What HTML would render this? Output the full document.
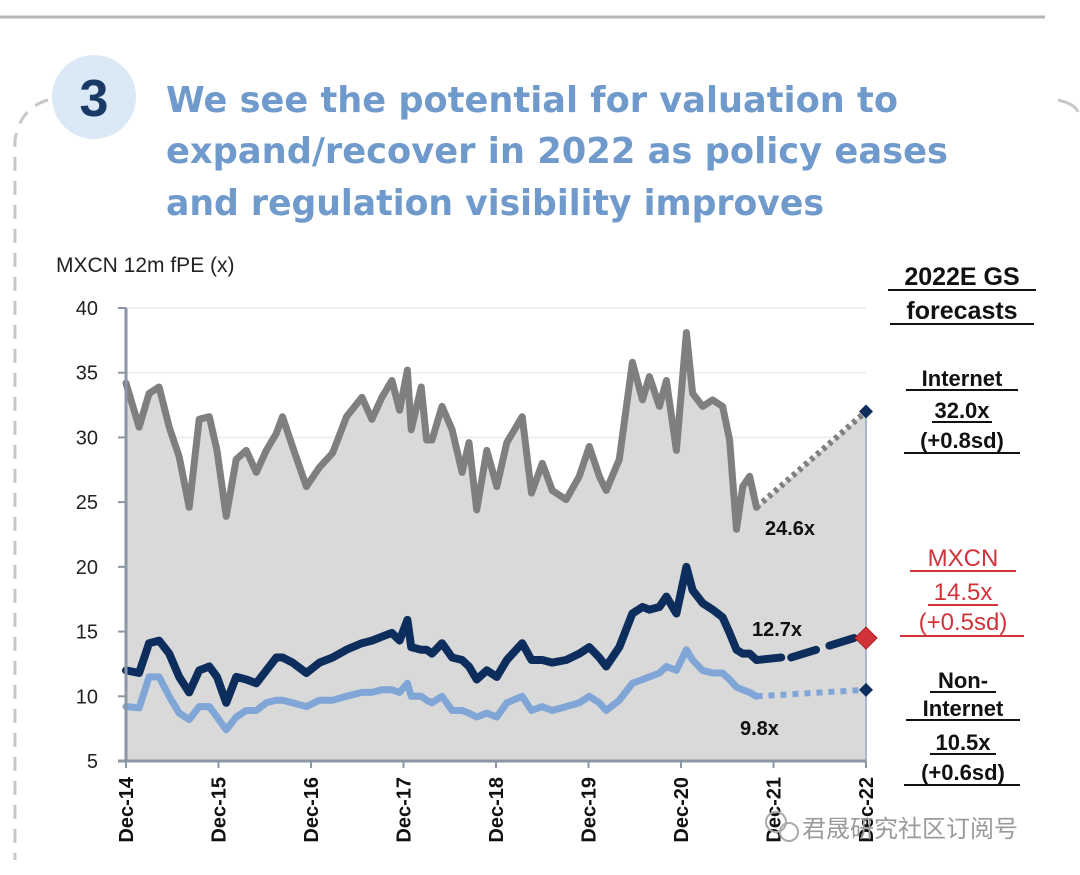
<!DOCTYPE html>
<html><head><meta charset="utf-8">
<style>
html,body{margin:0;padding:0;background:#fff;}
body{width:1080px;height:875px;overflow:hidden;position:relative;font-family:"Liberation Sans","Noto Sans CJK SC",sans-serif;}
</style></head>
<body>
<svg id="chart" width="1080" height="875" viewBox="0 0 1080 875" xmlns="http://www.w3.org/2000/svg" style="position:absolute;left:0;top:0">
  <line x1="0" y1="17" x2="1045" y2="17" stroke="#b5b5b5" stroke-width="3"/>
  <path d="M48 100 Q20 108 15 140 L15 860" fill="none" stroke="#c8c8c8" stroke-width="3" stroke-dasharray="14 10"/>
  <path d="M1058 100 Q1075 104 1078 112" fill="none" stroke="#c8c8c8" stroke-width="3"/>
  <circle cx="94" cy="97" r="42" fill="#dbe8f5"/>
  <text x="94" y="116" text-anchor="middle" font-size="52" font-weight="bold" fill="#1a3a66" font-family="Liberation Sans, sans-serif">3</text>
  <g font-size="36" font-weight="bold" fill="#6f9acb" font-family="DejaVu Sans, Liberation Sans, sans-serif">
    <text x="166" y="112" textLength="732" lengthAdjust="spacingAndGlyphs">We see the potential for valuation to</text>
    <text x="166" y="163" textLength="782" lengthAdjust="spacingAndGlyphs">expand/recover in 2022 as policy eases</text>
    <text x="166" y="215" textLength="658" lengthAdjust="spacingAndGlyphs">and regulation visibility improves</text>
  </g>
  <text x="56" y="272" font-size="21" fill="#222">MXCN 12m fPE (x)</text>
  <g id="plot"></g>
  <g font-size="25" font-weight="bold" fill="#111" text-anchor="middle">
    <text x="962" y="285">2022E GS</text>
    <text x="962" y="319">forecasts</text>
    <line x1="888" y1="290" x2="1036" y2="290" stroke="#111" stroke-width="2"/>
    <line x1="890" y1="324" x2="1034" y2="324" stroke="#111" stroke-width="2"/>
  </g>
  <g font-size="22" font-weight="bold" fill="#111" text-anchor="middle">
    <text x="962" y="386">Internet</text>
    <text x="962" y="418">32.0x</text>
    <text x="962" y="448">(+0.8sd)</text>
    <line x1="906" y1="390" x2="1018" y2="390" stroke="#111" stroke-width="2"/>
    <line x1="932" y1="422" x2="992" y2="422" stroke="#111" stroke-width="2"/>
    <line x1="904" y1="453" x2="1020" y2="453" stroke="#111" stroke-width="2"/>
  </g>
  <g font-size="24" fill="#d0343a" text-anchor="middle">
    <text x="963" y="566">MXCN</text>
    <text x="963" y="600">14.5x</text>
    <text x="963" y="630">(+0.5sd)</text>
    <line x1="910" y1="571" x2="1016" y2="571" stroke="#d0343a" stroke-width="2"/>
    <line x1="928" y1="605" x2="998" y2="605" stroke="#d0343a" stroke-width="2"/>
    <line x1="900" y1="636" x2="1024" y2="636" stroke="#d0343a" stroke-width="2"/>
  </g>
  <g font-size="22" font-weight="bold" fill="#111" text-anchor="middle">
    <text x="963" y="688">Non-</text>
    <text x="963" y="716">Internet</text>
    <text x="963" y="750">10.5x</text>
    <text x="963" y="780">(+0.6sd)</text>
    <line x1="930" y1="692" x2="996" y2="692" stroke="#111" stroke-width="2"/>
    <line x1="906" y1="720" x2="1020" y2="720" stroke="#111" stroke-width="2"/>
    <line x1="930" y1="754" x2="996" y2="754" stroke="#111" stroke-width="2"/>
    <line x1="904" y1="785" x2="1020" y2="785" stroke="#111" stroke-width="2"/>
  </g>
  <g>
    <circle cx="776" cy="822" r="10" fill="none" stroke="#aaa" stroke-width="2"/>
    <circle cx="789" cy="832" r="9" fill="none" stroke="#aaa" stroke-width="2"/>
    <text x="802" y="837" font-size="24" fill="#9a9a9a" font-family="Liberation Sans, Noto Sans CJK SC, sans-serif">君晟研究社区订阅号</text>
  </g>
</svg>
<script>
// month offsets from Dec-14
const months = [0,1.7,3,4.3,5.6,6.9,8.2,9.5,10.8,11.8,13,14.3,15.6,16.9,18.2,19.5,20.3,21.6,23.4,25.1,26.8,28.6,30.6,31.9,33.2,34.5,35.5,36.5,37,38.3,39,39.7,41,42.3,43.6,44.5,45.5,46.8,48.1,49.4,51.4,52.6,54,55.3,57.1,58.8,60.1,61.4,62.3,64,65.7,67,67.9,69.2,70.1,71.4,72.7,73.5,74.8,76.1,77.4,78.3,79.2,80,80.9,81.8];
const internet = [34.2,30.8,33.4,33.9,30.8,28.5,24.6,31.4,31.6,29,23.9,28.3,29,27.3,29,30.3,31.6,29.3,26.2,27.7,28.8,31.6,33.1,31.4,33.1,34.4,32.1,35.2,30.6,33.9,29.8,29.8,32.4,30.6,27.3,29.6,24.4,29,26.2,29.6,31.6,25.7,28,25.9,25.2,27,29.3,27,25.9,28.3,35.8,32.9,34.7,32.4,34.4,29,38.1,33.4,32.4,32.9,32.4,29.8,22.9,26.2,27,24.6];
const mxcn = [12,11.8,14.1,14.3,13.3,11.5,10.3,12,12.3,11.5,9.5,11.5,11.3,11,12,13,13,12.6,11.8,12.6,13,13.6,14.1,14.3,14.6,14.9,14.3,15.9,13.8,13.6,13.6,13.3,14.1,13,12.8,12.3,11.3,12,11.5,12.8,14.1,12.8,12.8,12.6,12.8,13.3,13.8,13,12.3,13.8,16.4,16.9,16.7,16.9,17.7,16.4,20,18.2,17.2,16.7,16.1,14.9,13.6,13.3,13.3,12.8];
const nonInternet = [9.2,9.1,11.5,11.5,10,8.7,8.2,9.2,9.2,8.4,7.4,8.4,8.9,8.9,9.5,9.7,9.7,9.5,9.2,9.7,9.7,10,10.3,10.3,10.5,10.5,10.3,11,10,10,9.7,9.5,10,8.9,8.9,8.7,8.4,8.7,8.4,9.5,10,8.9,9.2,8.9,9.2,9.5,10,9.5,8.9,9.7,11,11.3,11.5,11.8,12.3,12,13.6,12.8,12,11.8,11.8,11.3,10.7,10.5,10.3,10];
const mxcnTail = [[81.8,12.8],[85,13.0]];
const forecastMonth = 96;
const forecasts = {internet:32.0, mxcn:14.5, nonInternet:10.5};
const yTicks = [5,10,15,20,25,30,35,40];
const xTickLabels = ["Dec-14","Dec-15","Dec-16","Dec-17","Dec-18","Dec-19","Dec-20","Dec-21","Dec-22"];
const valueLabels = ["24.6x","12.7x","9.8x"];

const NS="http://www.w3.org/2000/svg";
const X0=126, X1=866, Y0=761, Y1=308, YMIN=5, YMAX=40, MMAX=96;
const xs = m => X0 + (X1-X0)*m/MMAX;
const ys = v => Y0 - (Y0-Y1)*(v-YMIN)/(YMAX-YMIN);
const plot=document.getElementById('plot');
function mk(tag,attrs,parent){const e=document.createElementNS(NS,tag);for(const k in attrs)e.setAttribute(k,attrs[k]);(parent||plot).appendChild(e);return e;}

yTicks.forEach(t=>{ if(t>YMIN){
  const g=mk('line',{x1:X0,x2:X1,y1:ys(t),y2:ys(t),stroke:'#ececec','stroke-width':1.5});
  
  
}});
let d='M'+xs(months[0])+' '+Y0;
months.forEach((m,i)=>{d+=' L'+xs(m).toFixed(1)+' '+ys(internet[i]).toFixed(1);});
d+=' L'+xs(forecastMonth)+' '+ys(forecasts.internet)+' L'+xs(forecastMonth)+' '+Y0+' Z';
const area=mk('path',{d:d,fill:'#d9d9d9'});


const rb=mk('line',{x1:X1,x2:X1,y1:ys(forecasts.internet),y2:Y0,stroke:'#a9b8cc','stroke-width':2});



function line(vals,color,w,name){
  const p=months.map((m,i)=>xs(m).toFixed(1)+','+ys(vals[i]).toFixed(1)).join(' ');
  const e=mk('polyline',{points:p,fill:'none',stroke:color,'stroke-width':w,'stroke-linejoin':'round','stroke-linecap':'round'});
  
  
}
line(internet,'#7f7f7f',7,'internet-line');
line(nonInternet,'#7fa6d6',7,'non-internet-line');
line(mxcn,'#0d2d5c',8,'mxcn-line');
const tail=mk('polyline',{points:mxcnTail.map(p=>xs(p[0])+','+ys(p[1])).join(' '),fill:'none',stroke:'#0d2d5c','stroke-width':8,'stroke-linecap':'round'});



const last=months.length-1;
const fi=mk('line',{x1:xs(months[last]),y1:ys(internet[last]),x2:xs(forecastMonth),y2:ys(forecasts.internet),stroke:'#808080','stroke-width':6,'stroke-dasharray':'4 4'});


const t=mxcnTail[mxcnTail.length-1];
const fm=mk('line',{x1:xs(t[0])+10,y1:ys(t[1]),x2:xs(forecastMonth)-12,y2:ys(forecasts.mxcn),stroke:'#0d2d5c','stroke-width':8,'stroke-dasharray':'26 14','stroke-linecap':'round'});


const fn=mk('line',{x1:xs(months[last]),y1:ys(nonInternet[last]),x2:xs(forecastMonth),y2:ys(forecasts.nonInternet),stroke:'#7fa6d6','stroke-width':6,'stroke-dasharray':'6 6'});



function diamond(v,r,fill,name){
  const cx=xs(forecastMonth), cy=ys(v);
  const e=mk('polygon',{points:`${cx},${cy-r} ${cx+r},${cy} ${cx},${cy+r} ${cx-r},${cy}`,fill:fill,stroke:fill==='#d0343a'?'#a82020':'none','stroke-width':1});
  
  
}
diamond(forecasts.internet,7,'#0d2d5c','internet-forecast-marker');
diamond(forecasts.nonInternet,7,'#0d2d5c','non-internet-forecast-marker');
diamond(forecasts.mxcn,11,'#d0343a','mxcn-forecast-marker');

const ya=mk('line',{x1:X0,x2:X0,y1:Y1,y2:Y0,stroke:'#8a96a6','stroke-width':3});


const xa=mk('line',{x1:X0-8,x2:X1,y1:Y0,y2:Y0,stroke:'#8a96a6','stroke-width':3});


yTicks.forEach(v=>{
  mk('line',{x1:X0-8,x2:X0,y1:ys(v),y2:ys(v),stroke:'#8a96a6','stroke-width':2});
  const tx=mk('text',{x:98,y:ys(v)+7,'text-anchor':'end','font-size':20,fill:'#222'});
  tx.textContent=v;
  
  
});
xTickLabels.forEach((lab,i)=>{
  const x=xs(i*12);
  mk('line',{x1:x,x2:x,y1:Y0,y2:Y0+7,stroke:'#8a96a6','stroke-width':2});
  const tx=mk('text',{x:0,y:0,transform:`translate(${x+7},${Y0+16}) rotate(-90)`,'text-anchor':'end','font-size':20,'font-weight':'bold',fill:'#111'});
  tx.textContent=lab;
  
  
});
const vl=[[765,535],[752,636],[740,735]];
valueLabels.forEach((s,i)=>{
  const tx=mk('text',{x:vl[i][0],y:vl[i][1],'font-size':20,'font-weight':'bold',fill:'#111'});
  tx.textContent=s;
  
  
});
</script>
</body></html>
